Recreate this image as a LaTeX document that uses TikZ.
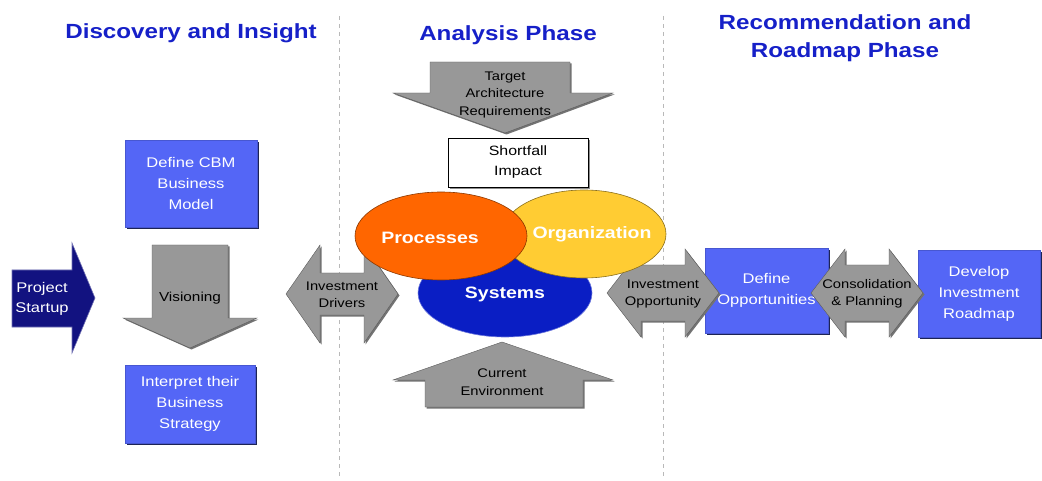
\documentclass[tikz,border=0pt]{standalone}
\usepackage{fontspec}
\setmainfont{Liberation Sans}[FakeStretch=1.18]
\usetikzlibrary{shapes.geometric}
\usetikzlibrary{shadows}
\definecolor{headblue}{RGB}{22,32,200}
\definecolor{boxblue}{RGB}{84,102,246}
\definecolor{navy}{RGB}{18,18,128}
\definecolor{arrgray}{RGB}{152,152,152}
\definecolor{procorange}{RGB}{255,102,0}
\definecolor{orgyellow}{RGB}{255,204,51}
\definecolor{sysblue}{RGB}{10,30,196}

\tikzset{
    heading/.style={text=headblue, align=center,
                    font=\fontsize{20.5}{28}\selectfont\bfseries},
    bluebox/.style={rectangle, fill=boxblue, draw=boxblue!85!black, text=white,
                    align=center, font=\fontsize{14}{21}\selectfont,
                    drop shadow={shadow xshift=2pt, shadow yshift=-2pt,
                                 fill=boxblue!35!black, opacity=1}},
    grayarrow/.style={fill=arrgray, draw=arrgray!60!black, line width=0.4pt,
                    drop shadow={shadow xshift=1.5pt, shadow yshift=-1.5pt,
                                 fill=black!55, opacity=1}},
    arrowtext/.style={align=center, font=\fontsize{12.5}{17.5}\selectfont},
    blob/.style={ellipse, inner sep=0pt, line width=0.6pt},
    blobtext/.style={text=white, font=\fontsize{16.5}{20}\selectfont\bfseries},
}

\begin{document}
\begin{tikzpicture}[x=1pt, y=-1pt]
    \useasboundingbox (0,0) rectangle (1042,481);
    \def\hl{56}
    \def\hb{22}
    % phase headings and separators
    \node[heading] (disc) at (191,33.5) {Discovery and Insight};
    \node[heading] (anal) at (508,35.5) {Analysis Phase};
    \node[heading] (recom) at (845,38.5) {Recommendation and\\Roadmap Phase};
    \foreach \x in {339,663}
        \draw[gray!55, dash pattern=on 4pt off 4pt] (\x,16) -- (\x,478);

    % discovery column
    \filldraw[fill=navy, draw=navy!60!white, line width=0.6pt]
        (12,270) -- (72,270) -- (72,243) -- (95,298) -- (72,353) -- (72,327) -- (12,327) -- cycle;
    \node[text=white, align=center, font=\fontsize{14}{20}\selectfont] (startup) at (42,299) {Project\\Startup};
    \node[bluebox, minimum width=132, minimum height=87] (cbm) at (191,183.5) {Define CBM\\Business\\Model};
    \filldraw[grayarrow]
        (152,245) -- (228,245) -- (228,318) -- (257,318) -- (190,348) -- (123,318) -- (152,318) -- cycle;
    \node[arrowtext, font=\fontsize{13}{18}\selectfont] (vision) at (190,298) {Visioning};
    \node[bluebox, minimum width=130, minimum height=78] (strategy) at (190,404) {Interpret their\\Business\\Strategy};

    % analysis column
    \filldraw[grayarrow]
        (430,62) -- (570,62) -- (570,93) -- (613,93) -- (505,133) -- (393,93) -- (430,93) -- cycle;
    \node[arrowtext] (target) at (505,94.5) {Target\\Architecture\\Requirements};
    \node[draw=black, fill=white, minimum width=140, minimum height=49, align=center,
          font=\fontsize{13.5}{20}\selectfont,
          drop shadow={shadow xshift=2pt, shadow yshift=-2pt, fill=black!45, opacity=1}]
        (shortfall) at (518,162.5) {Shortfall\\Impact};
    \filldraw[grayarrow]
        (502,342) -- (613,380) -- (583,380) -- (583,407) -- (425,407) -- (425,380) -- (393,380) -- cycle;
    \node[arrowtext] (current) at (502,382) {Current\\Environment};

    % roadmap column
    \node[bluebox, minimum width=123, minimum height=85] (define) at (766.5,290.5) {Define\\Opportunities};
    \node[bluebox, minimum width=122, minimum height=87] (roadmap) at (979,293.5) {Develop\\Investment\\Roadmap};

    \foreach \nm/\cx/\cy/\bh/\hh/\txt in {drivers/342/294/21/49/{Investment\\Drivers},
                                        opport/663/293/28/44/{Investment\\Opportunity},
                                        consol/867/293/28/44/{Consolidation\\\& Planning}}{
        \filldraw[grayarrow] (\cx-\hl,\cy) -- (\cx-\hb,\cy-\hh) -- (\cx-\hb,\cy-\bh) -- (\cx+\hb,\cy-\bh)
            -- (\cx+\hb,\cy-\hh) -- (\cx+\hl,\cy) -- (\cx+\hb,\cy+\hh) -- (\cx+\hb,\cy+\bh)
            -- (\cx-\hb,\cy+\bh) -- (\cx-\hb,\cy+\hh) -- cycle;
        \node[arrowtext] (\nm) at (\cx,\cy+1) {\txt};
    }

    % the three views
    \node[blob, fill=sysblue, draw=sysblue!60!white, minimum width=174, minimum height=88] (sys) at (505,293) {};
    \node[blob, fill=orgyellow, draw=orgyellow!55!black, minimum width=164, minimum height=88] (org) at (584,234) {};
    \node[blob, fill=procorange, draw=procorange!55!black, minimum width=172, minimum height=88] (proc) at (441,236) {};
    \node[blobtext] (systext) at ([yshift=-1pt]sys.center) {Systems};
    \node[blobtext] (orgtext) at ([xshift=8pt]org.center) {Organization};
    \node[blobtext] (proctext) at ([xshift=-11pt, yshift=-2pt]proc.center) {Processes};
\end{tikzpicture}
\end{document}
